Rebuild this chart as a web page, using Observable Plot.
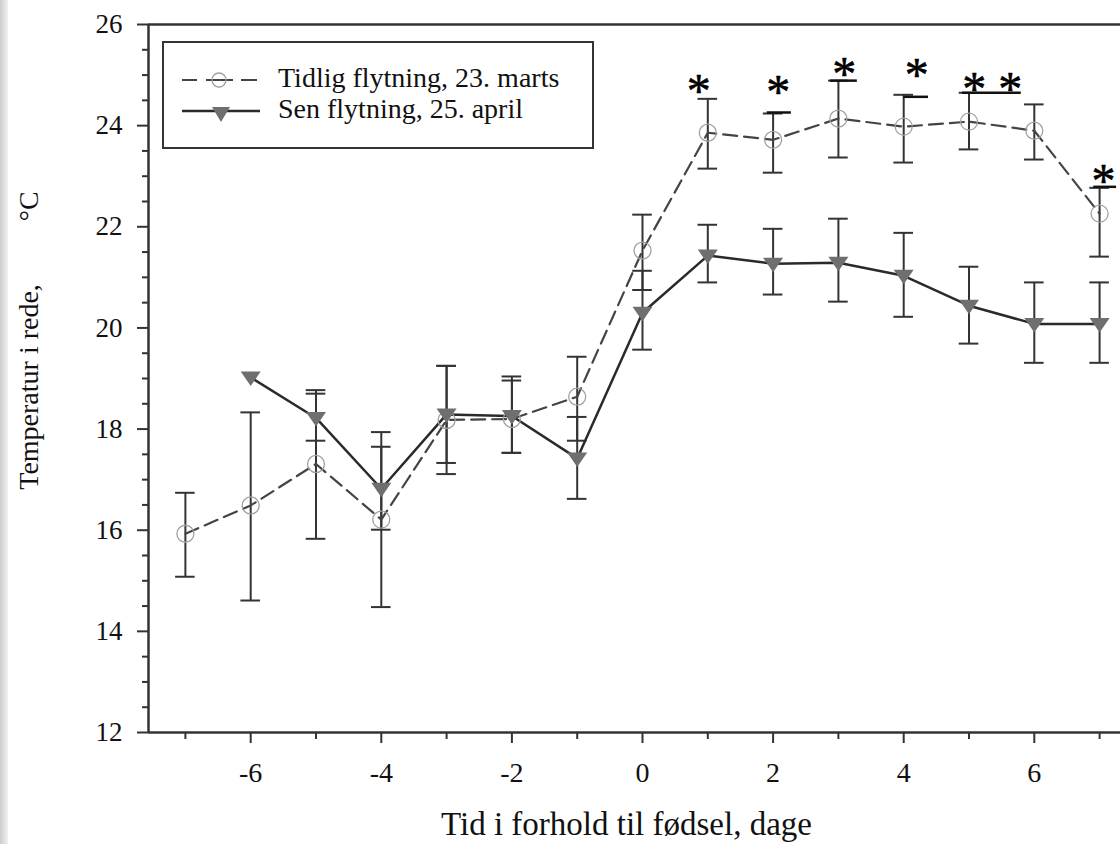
<!DOCTYPE html>
<html><head><meta charset="utf-8">
<script src="https://cdn.jsdelivr.net/npm/d3@7"></script>
<script src="https://cdn.jsdelivr.net/npm/@observablehq/plot@0.6"></script>
<style>
body{margin:0;background:#fff;}
#wrap{position:relative;width:1120px;height:844px;overflow:hidden;background:#fff;}
#strip{position:absolute;left:0;top:0;width:8px;height:844px;background:linear-gradient(to right,#cdcdcd,#e2e2e2 60%,#f2f2f2);}
#legend{position:absolute;left:0;top:0;}
#chart svg text{font-family:'Liberation Serif','Times New Roman',serif !important;}
</style></head><body>
<div id="wrap"><div id="chart"></div><div id="strip"></div><svg id="legend" width="1120" height="844"></svg></div>
<script>
// ---- data ----
const daysEarly = [-7,-6,-5,-4,-3,-2,-1,0,1,2,3,4,5,6,7];
const early   = [15.93,16.49,17.31,16.21,18.18,18.20,18.64,21.53,23.86,23.72,24.14,23.98,24.08,23.90,22.26];
const earlyHi = [16.74,18.33,18.70,17.94,19.25,18.96,19.43,22.24,24.53,24.24,24.89,24.61,24.65,24.42,22.77];
const earlyLo = [15.08,14.61,15.83,14.48,17.11,17.53,17.77,20.75,23.15,23.07,23.37,23.27,23.53,23.33,21.41];

const daysLate = [-6,-5,-4,-3,-2,-1,0,1,2,3,4,5,6,7];
const late   = [19.02,18.22,16.82,18.29,18.26,17.42,20.30,21.43,21.27,21.29,21.03,20.44,20.08,20.08];
const lateHi = [null,18.77,17.65,19.25,19.04,18.24,21.13,22.04,21.96,22.16,21.88,21.21,20.90,20.90];
const lateLo = [null,17.77,16.01,17.33,17.53,16.62,19.57,20.90,20.66,20.52,20.22,19.69,19.31,19.31];

// significance asterisks (day position, temperature level)
const starT = [0.86,2.08,3.09,4.20,5.08,5.63,7.06];
const starV = [24.79,24.77,25.13,25.11,24.83,24.83,23.01];
// underline segments under asterisks
const lineFrom = [1.91,2.88,4.00,4.90,6.91];
const lineTo   = [2.28,3.29,4.38,5.80,7.26];
const lineV    = [24.26,24.89,24.57,24.65,22.79];

const xMajor = [-6,-4,-2,0,2,4,6];
const xMinor = [-7,-5,-3,-1,1,3,5,7];
const yMajor = [12,14,16,18,20,22,24,26];
const yMinor = d3.range(12.5,26,0.5).filter(v => v % 2 !== 0);

const legendLabels = ["Tidlig flytning, 23. marts","Sen flytning, 25. april"];
const xTitle = "Tid i forhold til fødsel, dage";
const yTitle = "Temperatur i rede,\u00A0\u00A0\u00A0\u00A0\u00A0\u00A0\u00A0\u00A0\u00A0°C";

// ---- build rows ----
const earlyRows = daysEarly.map((t,i)=>({t, v:early[i], hi:earlyHi[i], lo:earlyLo[i]}));
const lateRows = daysLate.map((t,i)=>({t, v:late[i], hi:lateHi[i], lo:lateLo[i]}));
const lateBars = lateRows.filter(d => d.hi != null);
const stars = starT.map((t,i)=>({t, v:starV[i]}));
const unders = lineFrom.map((a,i)=>({a, b:lineTo[i], v:lineV[i]}));

const capHalf = 0.15;
const font = "'Liberation Serif','Times New Roman',serif";
const downTri = {draw(ctx, size){ const a = Math.sqrt(size/Math.PI);
  ctx.moveTo(-a,-0.6*a); ctx.lineTo(a,-0.6*a); ctx.lineTo(0,0.85*a); ctx.closePath(); }};

const chart = Plot.plot({
  width:1120, height:844, marginLeft:148, marginRight:0, marginTop:24, marginBottom:112,
  x:{domain:[-7.565,7.32], label:null},
  y:{domain:[12,26], label:null},
  style:{fontFamily:font, background:"transparent", color:"#111"},
  marks:[
    Plot.axisY({ticks:yMinor, tickSize:6, text:null, stroke:"#333", strokeWidth:2, label:null}),
    Plot.axisY({ticks:yMajor, tickSize:11, tickPadding:15, fontSize:27, fontFamily:font, stroke:"#333", strokeWidth:2, fill:"#111", label:null, tickFormat:d=>String(d)}),
    Plot.axisX({ticks:xMinor, tickSize:7, text:null, stroke:"#333", strokeWidth:2, label:null}),
    Plot.axisX({ticks:xMajor, tickSize:11, tickPadding:19, fontSize:28, fontFamily:font, stroke:"#333", strokeWidth:2, fill:"#111", label:null, tickFormat:d=>String(d)}),
    Plot.ruleX([-7.565], {stroke:"#333", strokeWidth:2.5}),
    Plot.ruleY([12,26], {stroke:"#333", strokeWidth:2.5}),
    // error bars
    Plot.ruleX(earlyRows, {x:"t", y1:"lo", y2:"hi", stroke:"#333", strokeWidth:2}),
    Plot.ruleY(earlyRows, {y:"hi", x1:d=>d.t-capHalf, x2:d=>d.t+capHalf, stroke:"#333", strokeWidth:2}),
    Plot.ruleY(earlyRows, {y:"lo", x1:d=>d.t-capHalf, x2:d=>d.t+capHalf, stroke:"#333", strokeWidth:2}),
    Plot.ruleX(lateBars, {x:"t", y1:"lo", y2:"hi", stroke:"#333", strokeWidth:2}),
    Plot.ruleY(lateBars, {y:"hi", x1:d=>d.t-capHalf, x2:d=>d.t+capHalf, stroke:"#333", strokeWidth:2}),
    Plot.ruleY(lateBars, {y:"lo", x1:d=>d.t-capHalf, x2:d=>d.t+capHalf, stroke:"#333", strokeWidth:2}),
    // lines
    Plot.line(earlyRows, {x:"t", y:"v", stroke:"#444", strokeWidth:2.2, strokeDasharray:"14,7"}),
    Plot.line(lateRows, {x:"t", y:"v", stroke:"#2a2a2a", strokeWidth:2.5}),
    Plot.dot(earlyRows, {x:"t", y:"v", r:8.5, stroke:"#a0a0a0", strokeWidth:1.3, fill:"none"}),
    Plot.dot(lateRows, {x:"t", y:"v", r:10, symbol:downTri, fill:"#6f6f6f", stroke:"none"}),
    // significance
    Plot.ruleY(unders, {y:"v", x1:"a", x2:"b", stroke:"#111", strokeWidth:2.5}),
    Plot.text(stars, {x:"t", y:"v", text:()=>"*", fontSize:48, dy:6, fill:"#000", stroke:"#000", strokeWidth:0.6, fontFamily:font}),
    // titles
    Plot.text([xTitle], {frameAnchor:"bottom", dx:-8, dy:102, fontSize:33, fill:"#111", fontFamily:font}),
    Plot.text([yTitle], {frameAnchor:"left", textAnchor:"middle", dx:-119, dy:-38, rotate:-90, fontSize:28, fill:"#111", fontFamily:font})
  ]
});
document.getElementById("chart").appendChild(chart);

// legend overlay
const lg = d3.select("#legend");
lg.append("rect").attr("x",163).attr("y",42).attr("width",430).attr("height",106)
  .attr("fill","#fff").attr("stroke","#333").attr("stroke-width",2);
lg.append("line").attr("x1",182).attr("x2",257).attr("y1",80).attr("y2",80)
  .attr("stroke","#444").attr("stroke-width",2).attr("stroke-dasharray","15,9,27,8,16");
lg.append("circle").attr("cx",219).attr("cy",80).attr("r",7).attr("fill","none").attr("stroke","#a0a0a0").attr("stroke-width",1.3);
lg.append("line").attr("x1",182).attr("x2",260).attr("y1",111).attr("y2",111)
  .attr("stroke","#2a2a2a").attr("stroke-width",2.5);
lg.append("path").attr("d","M212,107L230,107L221,122Z").attr("fill","#6f6f6f");
lg.selectAll("text.l").data(legendLabels).join("text").attr("class","l")
  .attr("x",278).attr("y",(d,i)=>87+i*31).attr("font-family",font).attr("font-size",28).attr("fill","#111").text(d=>d);
</script>
</body></html>
